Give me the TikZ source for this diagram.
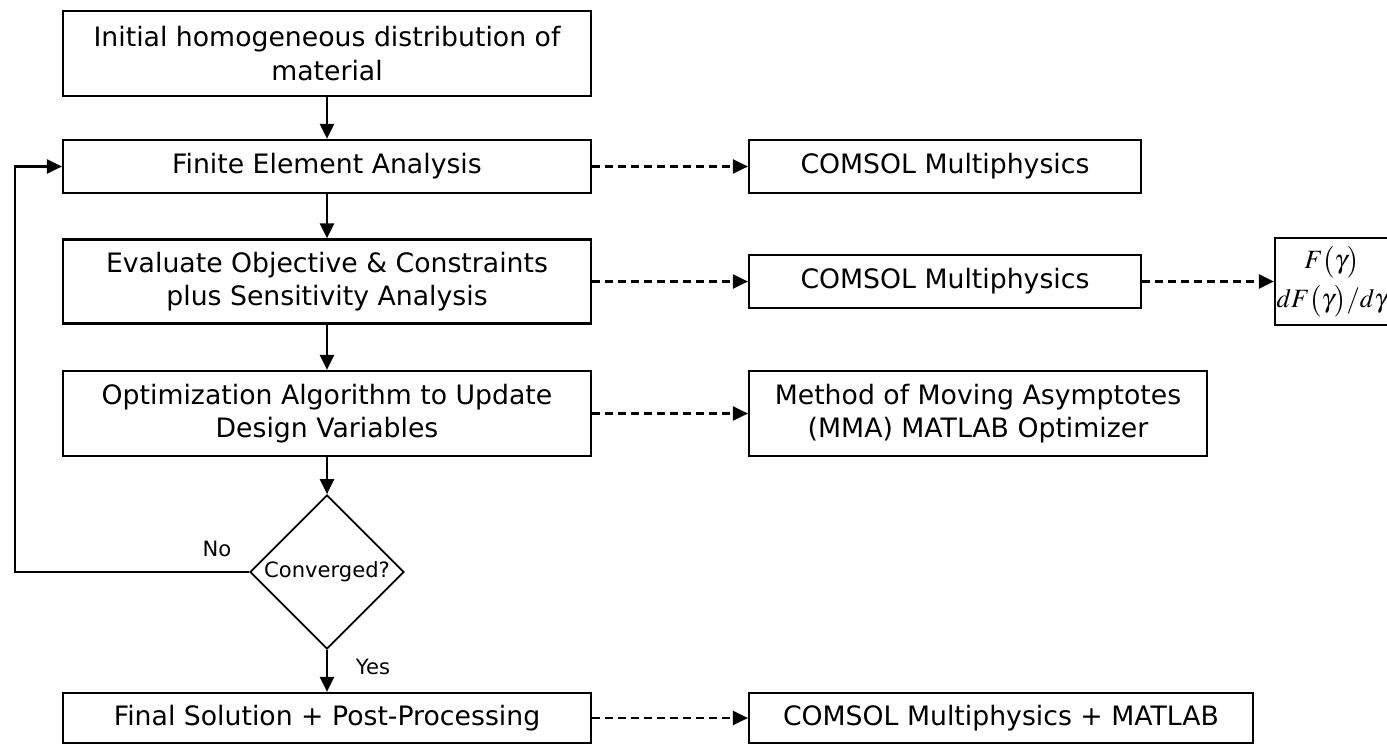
\documentclass[tikz,border=0pt]{standalone}
\usepackage{mathptmx}
\usepackage[no-math]{fontspec}
\setmainfont{DejaVu Sans}
\usetikzlibrary{arrows.meta,shapes.geometric}

\begin{document}
\begin{tikzpicture}
  [x=0.02cm,y=-0.02cm,
   box/.style={draw,line width=1.3pt,align=center,inner sep=2pt,font=\fontsize{15.2}{19}\selectfont},
   dec/.style={diamond,draw,line width=1pt,inner sep=0pt,minimum width=3.08cm,minimum height=3.08cm,font=\fontsize{12}{14}\selectfont},
   lbl/.style={font=\fontsize{12}{14}\selectfont},
   flow/.style={line width=1.3pt,-{Triangle[length=0.3cm,width=0.28cm]}},
   link/.style={flow,dash pattern=on 0.15cm off 0.11cm}]
  \clip (0,0) rectangle (1387,744);

  % main loop
  \node[box,minimum width=10.56cm,minimum height=1.7cm] (init) at (327,53.5) {Initial homogeneous distribution of\\material};
  \node[box,minimum width=10.56cm,minimum height=1.06cm] (fea) at (327,166.5) {Finite Element Analysis};
  \node[box,minimum width=10.56cm,minimum height=1.68cm] (eval) at (327,281.5) {Evaluate Objective \& Constraints\\plus Sensitivity Analysis};
  \node[box,minimum width=10.56cm,minimum height=1.7cm] (opt) at (327,413.5) {Optimization Algorithm to Update\\Design Variables};
  \node[dec] (conv) at (327,572) {Converged?};
  \node[box,minimum width=10.56cm,minimum height=1.0cm] (final) at (327,718) {Final Solution + Post-Processing};

  % tools
  \node[box,minimum width=7.84cm,minimum height=1.06cm] (comsolA) at (945,166.5) {COMSOL Multiphysics};
  \node[box,minimum width=7.84cm,minimum height=1.06cm] (comsolB) at (945,281.5) {COMSOL Multiphysics};
  \node[box,minimum width=9.16cm,minimum height=1.7cm] (mma) at (978,413.5) {Method of Moving Asymptotes\\(MMA) MATLAB Optimizer};
  \node[box,minimum width=10.08cm,minimum height=1.0cm] (post) at (1001,718) {COMSOL Multiphysics + MATLAB};
  \node[box,inner sep=0pt,minimum width=2.28cm,minimum height=1.74cm,font=\fontsize{15}{20}\selectfont] (grad) at (1332,281.5) {$F\bigl(\gamma\bigr)$\\[2pt]$dF\bigl(\gamma\bigr)/d\gamma$};

  \node[lbl] (no) at (217,549) {No};
  \node[lbl] (yes) at (373,667) {Yes};
  \coordinate (back) at (15,572);

  \draw[flow] (init) -- (fea);
  \draw[flow] (fea) -- (eval);
  \draw[flow] (eval) -- (opt);
  \draw[flow] (opt) -- (conv);
  \draw[flow] (conv) -- (final);
  \draw[flow] (conv.west) -- (back) |- (fea.west);

  \draw[link] (fea) -- (comsolA);
  \draw[link] (eval) -- (comsolB);
  \draw[link] (comsolB) -- (grad);
  \draw[link] (opt) -- (mma);
  \draw[link] (final) -- (post);

\end{tikzpicture}
\end{document}
